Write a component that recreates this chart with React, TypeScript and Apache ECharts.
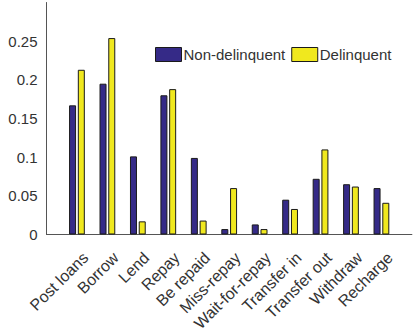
import React, { useEffect, useRef } from "react";
import * as echarts from "echarts";

// Activity categories along the x axis
const categories = [
  "Post loans",
  "Borrow",
  "Lend",
  "Repay",
  "Be repaid",
  "Miss-repay",
  "Wait-for-repay",
  "Transfer in",
  "Transfer out",
  "Withdraw",
  "Recharge",
];

// Share of each activity per user group
const nonDelinquent = [0.167, 0.195, 0.101, 0.18, 0.099, 0.007, 0.013, 0.045, 0.072, 0.065, 0.06];
const delinquent = [0.213, 0.254, 0.017, 0.188, 0.018, 0.06, 0.007, 0.033, 0.11, 0.062, 0.041];

const yTicks = [0, 0.05, 0.1, 0.15, 0.2, 0.25, 0.3];

const FONT = "'Liberation Sans', Arial, Helvetica, sans-serif";
const TEXT = "#333333";
const AXIS = "#555555";
const BLUE = "#352a87";
const YELLOW = "#f0e81e";
const EDGE = "#1a1a1a";

// One empty slot on each side so the bars sit a full category in from the axis ends
const padded = ["", ...categories, ""];
const pad = (arr: number[]) => [null, ...arr, null];

export default function App() {
  const ref = useRef<HTMLDivElement>(null);

  useEffect(() => {
    if (!ref.current) return;
    const chart = echarts.init(ref.current, null, { renderer: "svg" });
    chart.setOption({
      animation: false,
      backgroundColor: "#ffffff",
      textStyle: { fontFamily: FONT },
      grid: { left: 46.5, right: -2.8, top: 2.5, bottom: 98.5, containLabel: false },
      legend: {
        left: 155,
        top: 47,
        padding: 0,
        itemWidth: 26,
        itemHeight: 14,
        itemGap: 6,
        icon: "rect",
        textStyle: { fontFamily: FONT, fontSize: 15, color: TEXT, padding: [0, 0, 0, -3] },
        itemStyle: { borderColor: EDGE, borderWidth: 1 },
        data: ["Non-delinquent", "Delinquent"],
      },
      xAxis: {
        type: "category",
        data: padded,
        boundaryGap: false,
        axisLine: { show: true, lineStyle: { color: AXIS, width: 1 } },
        axisTick: { show: false },
        splitLine: { show: false },
        axisLabel: {
          interval: 0,
          rotate: 45,
          margin: 12,
          align: "right",
          verticalAlign: "top",
          padding: [4, 0, 0, 0],
          fontFamily: FONT,
          fontSize: 16,
          color: TEXT,
        },
      },
      yAxis: {
        type: "value",
        min: yTicks[0],
        max: yTicks[yTicks.length - 1],
        interval: 0.05,
        axisLine: { show: true, lineStyle: { color: AXIS, width: 1 } },
        axisTick: { show: false },
        splitLine: { show: false },
        axisLabel: {
          showMaxLabel: false,
          margin: 9,
          fontFamily: FONT,
          fontSize: 15,
          color: TEXT,
          formatter: (v: number) => String(Number(v.toFixed(2))),
        },
      },
      series: [
        {
          name: "Non-delinquent",
          type: "bar",
          data: pad(nonDelinquent),
          barWidth: 7,
          barGap: "25%",
          itemStyle: { color: BLUE, borderColor: EDGE, borderWidth: 1 },
        },
        {
          name: "Delinquent",
          type: "bar",
          data: pad(delinquent),
          barWidth: 7,
          barGap: "25%",
          itemStyle: { color: YELLOW, borderColor: EDGE, borderWidth: 1 },
        },
      ],
    });
    return () => chart.dispose();
  }, []);

  return (
    <div
      ref={ref}
      style={{ position: "fixed", left: 0, top: 0, width: 414, height: 334, background: "#fff" }}
    />
  );
}
